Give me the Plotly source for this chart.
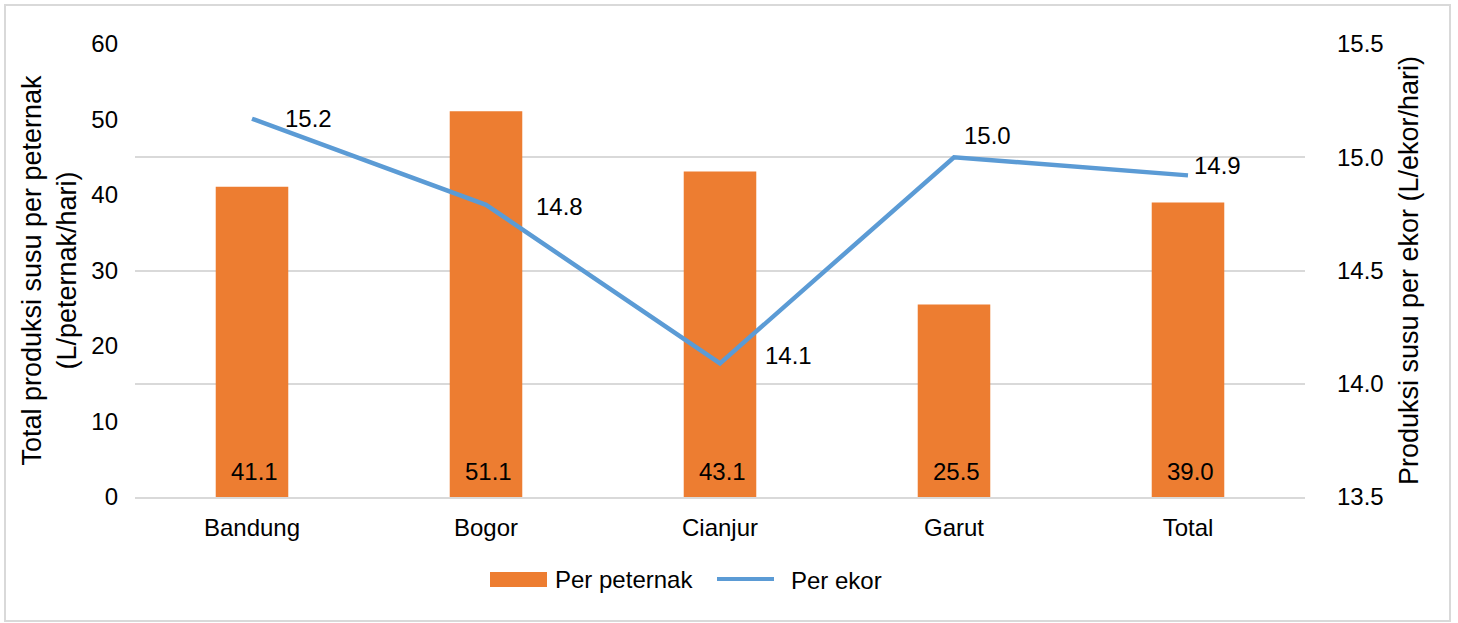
import plotly.graph_objects as go

categories = ["Bandung", "Bogor", "Cianjur", "Garut", "Total"]
per_peternak = [41.1, 51.1, 43.1, 25.5, 39.0]
per_ekor = [15.17, 14.79, 14.09, 15.0, 14.92]
ekor_labels = ["15.2", "14.8", "14.1", "15.0", "14.9"]
ekor_label_shift = [(31, 0), (48, -2), (43, 8), (8, 22), (4, 10)]

FONT = "Liberation Sans, Arial, sans-serif"
FS = 24
W, H = 1458, 623
ML, MR, MT, MB = 135, 153, 44, 126
BAR_COLOR = "#ed7d31"
LINE_COLOR = "#5b9bd5"
GRID = "#d9d9d9"

fig = go.Figure()
fig.add_trace(go.Bar(
    x=categories, y=per_peternak, name="Per peternak",
    marker=dict(color=BAR_COLOR, line=dict(width=0)),
    width=0.31, showlegend=False,
))
fig.add_trace(go.Scatter(
    x=categories, y=per_ekor, name="Per ekor", yaxis="y2",
    mode="lines", line=dict(color=LINE_COLOR, width=4.5), showlegend=False,
))

for c, v in zip(categories, per_peternak):
    fig.add_annotation(x=c, y=0, xref="x", yref="y", text=f"{v:.1f}", showarrow=False,
                       xanchor="center", yanchor="bottom", yshift=10, xshift=2,
                       font=dict(family=FONT, size=FS, color="black"))

for c, v, lab, (dx, dy) in zip(categories, per_ekor, ekor_labels, ekor_label_shift):
    fig.add_annotation(x=c, y=v, xref="x", yref="y2", text=lab, showarrow=False,
                       xanchor="left", yanchor="middle", xshift=dx, yshift=dy,
                       font=dict(family=FONT, size=FS, color="black"))

pw = W - ML - MR
ph = H - MT - MB
def px(x):
    return (x - ML) / pw
def py(y):
    return (H - MB - y) / ph

# chart border
fig.add_shape(type="rect", xref="paper", yref="paper",
              x0=px(5), x1=px(1450), y0=py(621), y1=py(5),
              line=dict(color=GRID, width=2), fillcolor="rgba(0,0,0,0)", layer="below")

# legend (drawn manually to match the reference's wide swatches)
fig.add_shape(type="rect", xref="paper", yref="paper",
              x0=px(490), x1=px(547), y0=py(587), y1=py(572),
              line=dict(width=0), fillcolor=BAR_COLOR)
fig.add_annotation(xref="paper", yref="paper", x=px(553), y=py(579), text="Per peternak",
                   showarrow=False, xanchor="left", yanchor="middle",
                   font=dict(family=FONT, size=FS, color="black"))
fig.add_shape(type="line", xref="paper", yref="paper",
              x0=px(717), x1=px(774), y0=py(579), y1=py(579),
              line=dict(color=LINE_COLOR, width=4))
fig.add_annotation(xref="paper", yref="paper", x=px(789), y=py(580), text="Per ekor",
                   showarrow=False, xanchor="left", yanchor="middle",
                   font=dict(family=FONT, size=FS, color="black"))

fig.update_layout(
    width=W, height=H,
    margin=dict(l=ML, r=MR, t=MT, b=MB),
    paper_bgcolor="white", plot_bgcolor="white",
    font=dict(family=FONT, size=FS, color="black"),
    showlegend=False,
    xaxis=dict(showgrid=False, showline=True, linecolor=GRID, linewidth=2,
               ticks="", tickfont=dict(size=FS), range=[-0.5, 4.5], ticklabelstandoff=8),
    yaxis=dict(range=[0, 60], dtick=10, showgrid=False,
               zeroline=False, showline=False, ticks="", ticklabelstandoff=16,
               tickfont=dict(size=FS),
               title=dict(text="Total produksi susu per peternak<br>(L/peternak/hari)",
                          font=dict(size=27), standoff=6)),
    yaxis2=dict(range=[13.5, 15.5], dtick=0.5, tickformat=".1f", overlaying="y", side="right",
                showgrid=True, gridcolor=GRID, gridwidth=1.5, zeroline=False, showline=False,
                ticks="", ticklabelstandoff=31, tickfont=dict(size=FS),
                title=dict(text="Produksi susu per ekor (L/ekor/hari)", font=dict(size=27), standoff=16)),
)

fig.write_html("out.html")
